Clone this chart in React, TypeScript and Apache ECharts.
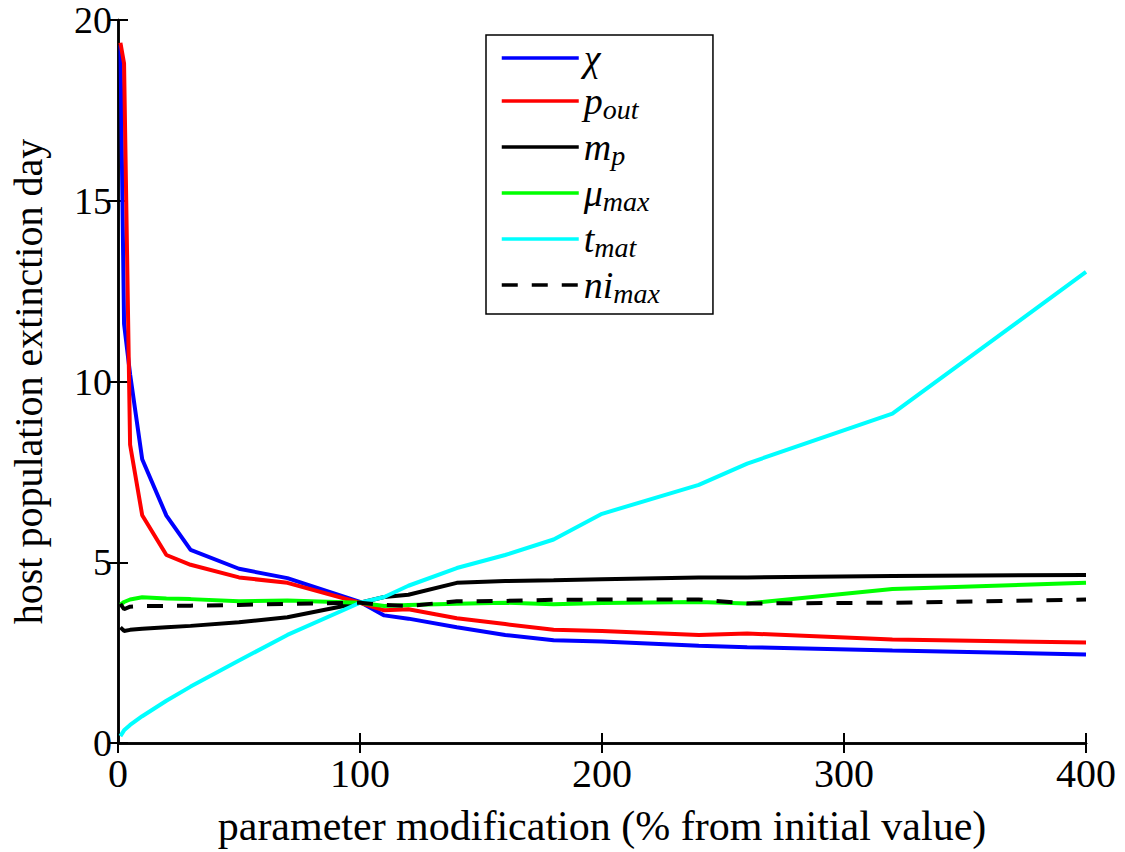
import React, { useEffect, useRef } from "react";
import * as echarts from "echarts";

const xValues = [1, 2.5, 5, 10, 20, 30, 50, 70, 100, 110, 120, 140, 160, 180, 200, 240, 260, 320, 400];
const chiValues = [19.3, 11.6, 10.2, 7.85, 6.29, 5.34, 4.82, 4.56, 3.9, 3.53, 3.44, 3.2, 2.99, 2.84, 2.81, 2.69, 2.65, 2.56, 2.45];
const poutValues = [19.37, 18.8, 8.25, 6.3, 5.2, 4.93, 4.58, 4.43, 3.88, 3.67, 3.7, 3.45, 3.29, 3.13, 3.1, 2.99, 3.03, 2.86, 2.78];
const mpValues = [3.2, 3.1, 3.13, 3.16, 3.2, 3.24, 3.34, 3.48, 3.88, 4.04, 4.1, 4.43, 4.48, 4.5, 4.53, 4.58, 4.58, 4.62, 4.65];
const muMaxValues = [3.83, 3.9, 3.97, 4.03, 4.0, 3.98, 3.92, 3.94, 3.88, 3.79, 3.82, 3.85, 3.88, 3.84, 3.87, 3.9, 3.86, 4.26, 4.43];
const tMatValues = [0.19, 0.35, 0.5, 0.74, 1.17, 1.56, 2.28, 2.99, 3.88, 4.04, 4.35, 4.84, 5.2, 5.63, 6.34, 7.14, 7.73, 9.11, 13.03];
const niMaxValues = [3.85, 3.7, 3.77, 3.79, 3.79, 3.8, 3.82, 3.85, 3.88, 3.82, 3.79, 3.92, 3.93, 3.96, 3.97, 3.97, 3.86, 3.88, 3.97];

const xTicks = [0, 100, 200, 300, 400];
const yTicks = [0, 5, 10, 15, 20];

const seriesDefs = [
  { name: "chi", label: "{m|χ}", values: chiValues, color: "#0000ff", dashed: false },
  { name: "pout", label: "{m|p}{s|out}", values: poutValues, color: "#ff0000", dashed: false },
  { name: "mp", label: "{m|m}{s|p}", values: mpValues, color: "#000000", dashed: false },
  { name: "mumax", label: "{m|μ}{s|max}", values: muMaxValues, color: "#00ff00", dashed: false },
  { name: "tmat", label: "{m|t}{s|mat}", values: tMatValues, color: "#00ffff", dashed: false },
  { name: "nimax", label: "{m|ni}{s|max}", values: niMaxValues, color: "#000000", dashed: true },
];

const FONT = "serif";

export default function App() {
  const ref = useRef<HTMLDivElement>(null);
  useEffect(() => {
    if (!ref.current) return;
    const chart = echarts.init(ref.current, null, { renderer: "svg" });
    const labelMap: Record<string, string> = {};
    seriesDefs.forEach((d) => (labelMap[d.name] = d.label));
    const axisCommon = {
      type: "value" as const,
      axisLine: { show: true, lineStyle: { color: "#000", width: 2.5 } },
      axisTick: { show: true, inside: true, length: 10, lineStyle: { color: "#000", width: 2 } },
      splitLine: { show: false },
    };
    chart.setOption({
      animation: false,
      backgroundColor: "#fff",
      textStyle: { fontFamily: FONT },
      grid: { left: 112, right: 39, top: 20, bottom: 100, containLabel: false },
      xAxis: [
        {
          ...axisCommon,
          min: 0,
          max: 400,
          interval: 100,
          position: "bottom",
          name: "parameter modification (% from initial value)",
          nameLocation: "middle",
          nameGap: 62,
          nameTextStyle: { fontFamily: FONT, fontSize: 42, color: "#000" },
          axisLabel: {
            show: true,
            fontFamily: FONT,
            fontSize: 40,
            color: "#000",
            margin: 10,
            formatter: (v: number) => (xTicks.includes(v) ? String(v) : ""),
          },
        },
        {
          ...axisCommon,
          min: 0,
          max: 400,
          interval: 100,
          position: "top",
          axisLabel: { show: false },
        },
      ],
      yAxis: [
        {
          ...axisCommon,
          min: 0,
          max: 20,
          interval: 5,
          position: "left",
          name: "host population extinction day",
          nameLocation: "middle",
          nameGap: 70,
          nameTextStyle: { fontFamily: FONT, fontSize: 40, color: "#000" },
          axisLabel: {
            show: true,
            fontFamily: FONT,
            fontSize: 38,
            color: "#000",
            margin: 6,
            formatter: (v: number) => (yTicks.includes(v) ? String(v) : ""),
          },
        },
        {
          ...axisCommon,
          min: 0,
          max: 20,
          interval: 5,
          position: "right",
          axisLabel: { show: false },
        },
      ],
      legend: {
        orient: "vertical",
        left: 486,
        top: 35,
        backgroundColor: "#fff",
        borderColor: "#000",
        borderWidth: 1.5,
        borderRadius: 0,
        padding: [4, 53, 7, 14],
        itemWidth: 77,
        itemHeight: 14,
        itemGap: 2,
        itemStyle: { opacity: 0 },
        lineStyle: { width: 3.5 },
        data: seriesDefs.map((d) => d.name),
        formatter: (name: string) => labelMap[name],
        textStyle: {
          color: "#000",
          rich: {
            m: { fontFamily: FONT, fontStyle: "italic", fontSize: 38, lineHeight: 36, color: "#000" },
            s: { fontFamily: FONT, fontStyle: "italic", fontSize: 28, lineHeight: 20, padding: [16, 0, 0, 0], color: "#000" },
          },
        },
      },
      series: seriesDefs.map((d) => ({
        name: d.name,
        type: "line",
        xAxisIndex: 0,
        yAxisIndex: 0,
        showSymbol: false,
        symbol: "none",
        data: xValues.map((x, i) => [x, d.values[i]]),
        lineStyle: { color: d.color, width: 4, type: d.dashed ? [16, 14] : "solid" },
        itemStyle: { color: d.color },
      })),
    });
    return () => chart.dispose();
  }, []);
  return (
    <div
      ref={ref}
      style={{ position: "absolute", left: 0, top: 0, width: 1125, height: 852, background: "#fff" }}
    />
  );
}
